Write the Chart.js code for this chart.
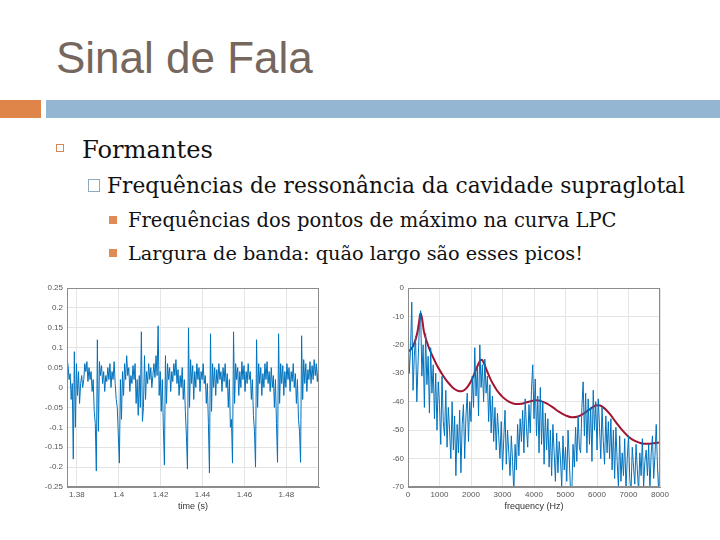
<!DOCTYPE html>
<html><head><meta charset="utf-8">
<script src="https://cdn.jsdelivr.net/npm/chart.js@4.4.1/dist/chart.umd.min.js"></script>
<style>
html,body{margin:0;padding:0;width:720px;height:540px;overflow:hidden;background:#fff;}
.abs{position:absolute;white-space:nowrap;}
#title{left:56px;top:36px;font-family:'Liberation Sans',Arial,sans-serif;font-size:44px;line-height:44px;color:#75675D;}
#barO{left:0;top:100px;width:41px;height:18px;background:#DF8549;}
#barB{left:46px;top:100px;width:674px;height:18px;background:#94B6D2;}
.serif{font-family:'DejaVu Serif',serif;color:#111;}
#l1{left:82px;top:138px;font-size:24.2px;line-height:24px;}
#l2{left:107px;top:175px;font-size:21.7px;line-height:21px;}
#l3a{left:128px;top:211px;font-size:19.5px;line-height:19px;}
#l3b{left:128px;top:244px;font-size:19.3px;line-height:19px;}
#b1{left:56px;top:144px;width:6px;height:6px;border:1.5px solid #D4885A;}
#b2{left:88px;top:179px;width:10px;height:11px;border:1px solid #8FA9BF;}
.b3{width:8px;height:8px;background:#E08B55;}
#c1wrap{left:20px;top:278px;width:305px;height:237px;}
#c2wrap{left:360px;top:278px;width:312px;height:237px;}
</style></head>
<body>
<div id="title" class="abs">Sinal de Fala</div>
<div id="barO" class="abs"></div>
<div id="barB" class="abs"></div>
<div id="b1" class="abs"></div>
<div id="l1" class="abs serif">Formantes</div>
<div id="b2" class="abs"></div>
<div id="l2" class="abs serif">Frequências de ressonância da cavidade supraglotal</div>
<div class="abs b3" style="left:109px;top:216px;"></div>
<div id="l3a" class="abs serif">Frequências dos pontos de máximo na curva LPC</div>
<div class="abs b3" style="left:109px;top:249px;"></div>
<div id="l3b" class="abs serif">Largura de banda: quão largo são esses picos!</div>
<div id="c1wrap" class="abs"><canvas id="c1" width="305" height="237"></canvas></div>
<div id="c2wrap" class="abs"><canvas id="c2" width="312" height="237"></canvas></div>
<script>
// ---- Speech waveform (left) ----
const sigStart = 1.3753;
const sigStep = 0.0005;
const signal = [
 0.075, 0.055, 0.02, 0.035, -0.03, 0.01, -0.18, 0.09, -0.10, 0.06,
 -0.02, 0.04, -0.04, 0.01, 0.03, 0.00, 0.02, 0.06, 0.04, 0.065,
 0.015, 0.05, 0.02, 0.04, -0.01, 0.02, -0.06, -0.09, -0.21, 0.12,
 -0.11, 0.065, 0.03, 0.055, 0.01, 0.04, -0.01, 0.03, 0.015, 0.05,
 0.02, 0.06, 0.00, 0.04, 0.02, 0.065, 0.01, -0.03, -0.05, -0.12,
 -0.19, 0.02, -0.08, 0.04, -0.02, 0.06, 0.02, 0.08, 0.03, 0.05,
 -0.01, 0.03, 0.01, 0.055, 0.02, 0.06, -0.04, 0.02, -0.07, 0.03,
 -0.05, 0.14, -0.085, -0.05, 0.08, -0.03, 0.04, 0.01, 0.06, 0.02,
 0.05, 0.00, 0.03, 0.06, 0.025, 0.08, 0.03, 0.155, -0.02, 0.04,
 -0.06, 0.02, -0.10, -0.195, 0.08, -0.04, 0.06, 0.02, 0.05, -0.01,
 0.04, 0.015, 0.06, 0.03, 0.07, 0.01, 0.045, -0.02, 0.03, 0.00,
 0.05, -0.03, 0.02, -0.06, -0.12, -0.205, 0.15, -0.05, 0.07, 0.01,
 0.055, -0.03, 0.04, 0.00, 0.06, 0.02, 0.05, -0.01, 0.04, 0.02,
 0.06, 0.01, 0.03, -0.04, 0.01, -0.09, -0.215, 0.135, -0.06, 0.06,
 0.00, 0.05, -0.02, 0.045, 0.01, 0.06, 0.02, 0.04, -0.01, 0.05,
 0.015, 0.06, 0.00, 0.035, -0.05, 0.02, -0.10, -0.08, -0.19, 0.14,
 -0.04, 0.06, 0.02, 0.05, -0.02, 0.04, 0.00, 0.065, 0.02, 0.055,
 -0.01, 0.04, 0.01, 0.06, 0.02, 0.04, -0.03, 0.02, -0.07, -0.11,
 -0.20, 0.12, -0.05, 0.06, 0.01, 0.05, -0.02, 0.035, 0.00, 0.06,
 0.02, 0.065, 0.01, 0.04, -0.01, 0.05, 0.00, 0.03, -0.05, 0.02,
 -0.09, -0.188, 0.135, -0.04, 0.06, 0.01, 0.055, -0.02, 0.04, 0.00,
 0.06, 0.02, 0.05, -0.01, 0.04, 0.015, 0.06, 0.00, 0.035, -0.04,
 0.02, -0.08, -0.11, -0.188, 0.13, -0.03, 0.07, 0.01, 0.06, -0.01,
 0.045, 0.02, 0.065, 0.01, 0.055, 0.02, 0.07, 0.03, 0.06, 0.015, 0.05
];
const timeTicks = [1.38, 1.40, 1.42, 1.44, 1.46, 1.48];
const timeLabels = ['1.38', '1.4', '1.42', '1.44', '1.46', '1.48'];
const ampTicks = [-0.25, -0.2, -0.15, -0.1, -0.05, 0, 0.05, 0.1, 0.15, 0.2, 0.25];
const ampLabels = ['-0.25', '-0.2', '-0.15', '-0.1', '-0.05', '0', '0.05', '0.1', '0.15', '0.2', '0.25'];

// ---- Spectrum (right) ----
const specStep = 40;
const spectrumDb = [
 -11, -30, -22, -5, -36, -24, -17, -40, -26, -14,
 -8, -31, -20, -42, -16, -34, -24, -44, -21, -37,
 -27, -46, -30, -50, -33, -41, -55, -31, -47, -52,
 -36, -56, -42, -50, -60, -40, -57, -45, -66, -48,
 -58, -43, -65, -48, -41, -60, -45, -37, -54, -40,
 -47, -31, -42, -21, -38, -28, -45, -20, -35, -27,
 -40, -25, -37, -31, -47, -34, -51, -38, -54, -42,
 -57, -44, -52, -60, -47, -64, -53, -43, -62, -50,
 -58, -66, -52, -61, -72, -55, -64, -48, -59, -46,
 -54, -43, -58, -39, -49, -56, -41, -51, -36, -27,
 -46, -32, -52, -38, -58, -35, -55, -40, -62, -44,
 -57, -46, -63, -50, -66, -48, -58, -68, -51, -65,
 -54, -60, -70, -52, -64, -56, -68, -50, -60, -72,
 -72, -55, -63, -49, -61, -45, -56, -58, -42, -33,
 -52, -37, -58, -39, -55, -42, -61, -36, -50, -40,
 -57, -39, -49, -60, -42, -54, -62, -45, -58, -47,
 -60, -46, -64, -50, -67, -49, -61, -70, -52, -68,
 -58, -66, -53, -71, -60, -52, -67, -72, -56, -63,
 -69, -55, -64, -72, -58, -66, -53, -70, -61, -57,
 -66, -55, -71, -58, -52, -67, -59, -48, -63, -72,
 -58
];
const lpcFreq = [0,100,200,300,350,400,450,500,600,700,800,900,1000,1100,1200,1300,1400,1500,1600,1700,1800,1900,2000,2100,2200,2300,2350,2400,2500,2600,2700,2800,2900,3000,3200,3400,3600,3800,4000,4100,4200,4400,4600,4800,5000,5200,5400,5600,5800,6000,6100,6200,6400,6600,6800,7000,7200,7400,7600,7800,8000];
const lpcDb = [-22.3,-21.5,-19.5,-15.5,-12,-8.8,-11,-15,-19,-22,-24.5,-26.8,-28.8,-30.6,-32.2,-33.6,-34.8,-35.7,-36.2,-36.3,-35.8,-34.6,-32.8,-30.4,-27.6,-25.4,-25.2,-26.2,-29,-31.6,-33.8,-35.6,-37.1,-38.3,-40,-40.8,-40.7,-40.1,-39.6,-39.5,-39.7,-40.6,-42,-43.6,-44.8,-45.5,-45.2,-44,-42.4,-41.2,-41.3,-42,-44.2,-47.2,-50,-52.3,-53.8,-54.6,-54.8,-54.6,-54.3];
const freqTicks = [0,1000,2000,3000,4000,5000,6000,7000,8000];
const dbTicks = [-70,-60,-50,-40,-30,-20,-10,0];

const boxPlugin = {
  id: 'box',
  afterDatasetsDraw(chart) {
    const a = chart.chartArea, c = chart.ctx;
    c.save();
    c.strokeStyle = '#8c8c8c';
    c.lineWidth = 1;
    c.strokeRect(Math.round(a.left) + 0.5, Math.round(a.top) + 0.5,
                 Math.round(a.right - a.left) - 1, Math.round(a.bottom - a.top) - 1);
    c.restore();
  }
};

function axisX(min, max, ticks, labels, title, h) {
  return {
    type: 'linear', min: min, max: max,
    afterBuildTicks: s => { s.ticks = ticks.map(v => ({ value: v })); },
    afterFit: s => { s.height = h; },
    ticks: { autoSkip: false, maxRotation: 0, padding: 3, color: '#555',
             font: { size: 8, family: 'Liberation Sans' },
             callback: (v, i) => labels[i] },
    grid: { color: '#e4e4e4', drawTicks: false },
    border: { color: '#8c8c8c' },
    title: { display: true, text: title, color: '#333', padding: { top: 2, bottom: 3 },
             font: { size: 9, family: 'Liberation Sans' } }
  };
}
function axisY(min, max, ticks, labels, w) {
  return {
    min: min, max: max,
    afterBuildTicks: s => { s.ticks = ticks.map(v => ({ value: v })); },
    afterFit: s => { s.width = w; },
    ticks: { autoSkip: false, padding: 4, color: '#555',
             font: { size: 8, family: 'Liberation Sans' },
             callback: (v, i) => labels[i] },
    grid: { color: '#e4e4e4', drawTicks: false },
    border: { color: '#8c8c8c' }
  };
}

const common = {
  responsive: false, animation: false, devicePixelRatio: 1,
  plugins: { legend: { display: false }, tooltip: { enabled: false } },
  elements: { point: { radius: 0 } }
};

new Chart(document.getElementById('c1'), {
  type: 'line',
  data: { datasets: [{
    data: signal.map((v, i) => ({ x: sigStart + i * sigStep, y: v })),
    borderColor: '#0072BD', borderWidth: 1, tension: 0, clip: 0
  }]},
  options: Object.assign({}, common, {
    layout: { padding: { top: 10, right: 6, left: 0, bottom: 0 } },
    scales: {
      x: axisX(1.3753, 1.4956, timeTicks, timeLabels, 'time (s)', 28),
      y: axisY(-0.25, 0.25, ampTicks, ampLabels, 47)
    }
  }),
  plugins: [boxPlugin]
});

new Chart(document.getElementById('c2'), {
  type: 'line',
  data: { datasets: [
    { data: spectrumDb.map((v, i) => ({ x: i * specStep, y: v })),
      borderColor: '#0072BD', borderWidth: 1, tension: 0, clip: 0 },
    { data: lpcFreq.map((f, i) => ({ x: f, y: lpcDb[i] })),
      borderColor: '#A2142F', borderWidth: 2, tension: 0.4, cubicInterpolationMode: 'monotone', clip: 0 }
  ]},
  options: Object.assign({}, common, {
    layout: { padding: { top: 10, right: 12, left: 0, bottom: 0 } },
    scales: {
      x: axisX(0, 8000, freqTicks, freqTicks.map(String), 'frequency (Hz)', 28),
      y: axisY(-70, 0, dbTicks, dbTicks.map(String), 48)
    }
  }),
  plugins: [boxPlugin]
});
</script>
</body></html>
